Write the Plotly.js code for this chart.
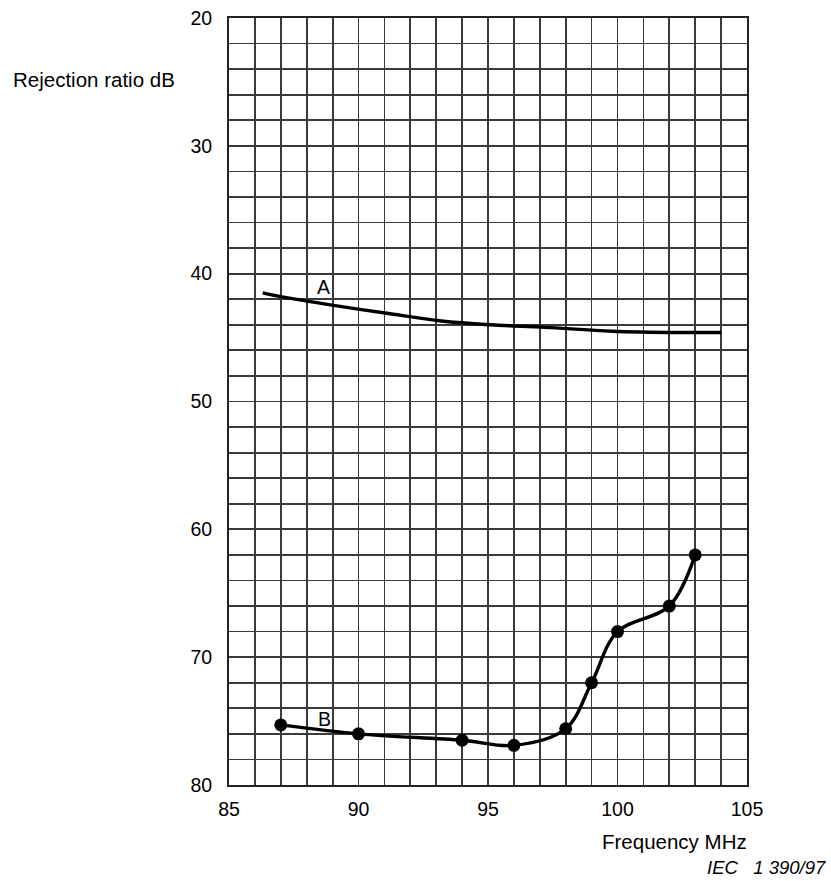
<!DOCTYPE html>
<html>
<head>
<meta charset="utf-8">
<script src="https://cdn.plot.ly/plotly-3.0.1.min.js"></script>
<style>
  html, body { margin: 0; padding: 0; background: #fff; }
  #chart { width: 831px; height: 881px; }
</style>
</head>
<body>
<div id="chart"></div>
<script>
// Curve A: rejection ratio (dB) versus frequency (MHz), smooth line
const curveAFreq = [86.3, 87.0, 89.1, 91.1, 93.2, 95.1, 97.2, 99.8, 102.4, 104.0];
const curveARej  = [41.5, 41.8, 42.5, 43.1, 43.7, 44.0, 44.2, 44.5, 44.6, 44.6];

// Curve B: measured points
const curveBFreq = [87, 90, 94, 96, 98, 99, 100, 102, 103];
const curveBRej  = [75.3, 76.0, 76.5, 76.9, 75.6, 72.0, 68.0, 66.0, 62.0];

// Axis ticks
const xTicks = [85, 90, 95, 100, 105];
const yTicks = [20, 30, 40, 50, 60, 70, 80];

const font = 'Liberation Sans, Arial, Helvetica, sans-serif';
const ink = '#000';

const traces = [
  {
    x: curveAFreq, y: curveARej, type: 'scatter', mode: 'lines',
    line: { color: ink, width: 3.4, shape: 'spline', smoothing: 1 },
    hoverinfo: 'skip'
  },
  {
    x: curveBFreq, y: curveBRej, type: 'scatter', mode: 'lines+markers',
    line: { color: ink, width: 3.4, shape: 'spline', smoothing: 1 },
    marker: { color: ink, size: 13 },
    hoverinfo: 'skip'
  }
];

const gridColor = '#3a3a3a';
const gridW = 1.8;

const layout = {
  width: 831, height: 881,
  margin: { l: 229, r: 84, t: 18, b: 96 },
  paper_bgcolor: '#fff', plot_bgcolor: '#fff',
  showlegend: false,
  font: { family: font, color: ink, size: 19.5 },
  xaxis: {
    range: [85, 105], tickvals: xTicks, ticktext: xTicks.map(String),
    showgrid: true, gridcolor: gridColor, gridwidth: gridW,
    minor: { dtick: 1, tick0: 85, showgrid: true, gridcolor: gridColor, gridwidth: gridW },
    showline: true, linecolor: '#222', linewidth: 2, mirror: true,
    ticks: '', ticklabelstandoff: 6, zeroline: false,
    tickfont: { family: font, size: 19.5, color: ink }
  },
  yaxis: {
    range: [80, 20], tickvals: yTicks, ticktext: yTicks.map(String),
    showgrid: true, gridcolor: gridColor, gridwidth: gridW,
    minor: { dtick: 2, tick0: 20, showgrid: true, gridcolor: gridColor, gridwidth: gridW },
    showline: true, linecolor: '#222', linewidth: 2, mirror: true,
    ticks: '', ticklabelstandoff: 11, zeroline: false,
    tickfont: { family: font, size: 19.5, color: ink }
  },
  annotations: [
    { text: 'A', x: 88.65, y: 41.05, xref: 'x', yref: 'y', showarrow: false,
      font: { family: font, size: 19.5, color: ink } },
    { text: 'B', x: 88.7, y: 74.85, xref: 'x', yref: 'y', showarrow: false,
      font: { family: font, size: 19.5, color: ink } },
    { text: 'Rejection ratio dB', x: -0.4215, y: 0.9192, xref: 'paper', yref: 'paper',
      xanchor: 'left', yanchor: 'middle', showarrow: false,
      font: { family: font, size: 20.5, color: ink } },
    { text: 'Frequency MHz', x: 1.003, y: -0.0743, xref: 'paper', yref: 'paper',
      xanchor: 'right', yanchor: 'middle', showarrow: false,
      font: { family: font, size: 20.5, color: ink } },
    { text: '<i>IEC&nbsp;&nbsp;&nbsp;1 390/97</i>', x: 1.1564, y: -0.1082, xref: 'paper', yref: 'paper',
      xanchor: 'right', yanchor: 'middle', showarrow: false,
      font: { family: font, size: 18.5, color: ink } }
  ]
};

Plotly.newPlot('chart', traces, layout, { staticPlot: true, displayModeBar: false });
</script>
</body>
</html>
